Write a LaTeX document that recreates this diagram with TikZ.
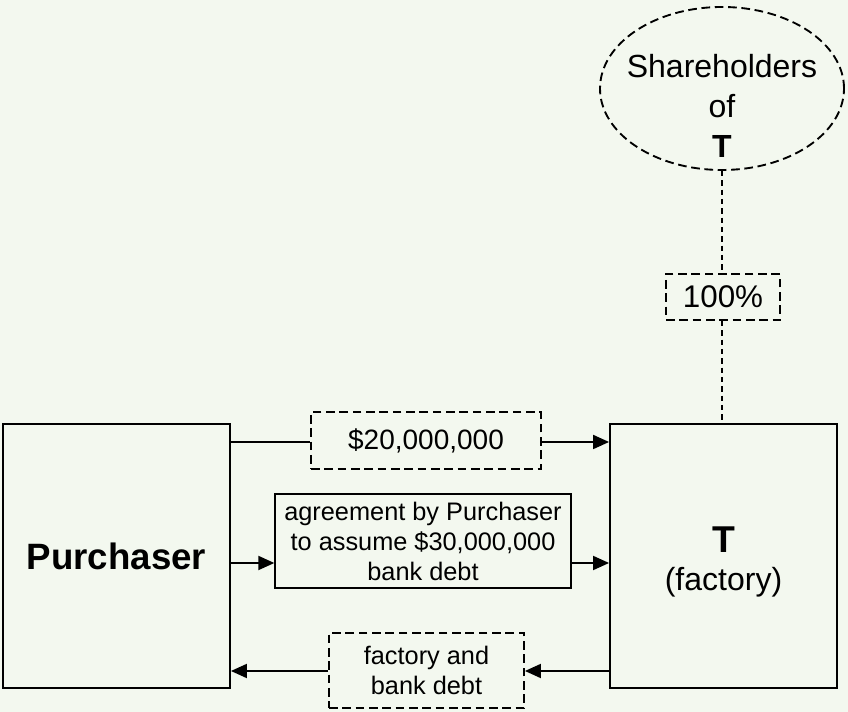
\documentclass[tikz,border=0pt]{standalone}
\usepackage{fontspec}
\setmainfont{Liberation Sans}
\usetikzlibrary{arrows.meta,positioning,shapes.geometric}
\definecolor{fondo}{HTML}{F3F8EF}
\newcommand{\fs}[2]{\fontsize{#1pt}{#2pt}\selectfont}

\begin{document}
\begin{tikzpicture}[
    x=0.75pt,y=0.75pt,line width=1.4pt,
    >={Triangle[length=12pt,width=10.5pt]},
    party/.style={draw,align=center,minimum width=227*0.75pt,
                  minimum height=264*0.75pt,inner sep=0pt},
    dashbox/.style={draw,dash pattern=on 6.5pt off 3.5pt,align=center,inner sep=0pt},
    plainbox/.style={draw,line width=1pt,align=center,inner sep=0pt},
    link/.style={dash pattern=on 4pt off 3pt,line width=1pt},
    arr/.style={->}]
  \fill[fondo] (0,0) rectangle (848,712);
  \useasboundingbox (0,0) rectangle (848,712);
  % --- partes: comprador y T
  \node[party,font=\fs{27.5}{33}\bfseries] (buyer) at (116.5,156) {Purchaser};
  \node[party] (tbox) at (723.5,156) {};
  \node[align=center,font=\fs{24}{28.5}] (tname) at (723.5,150)
    {{\fs{28}{28}\bfseries T}\\(factory)};
  % --- accionistas de T
  \node[ellipse,dashbox,minimum width=244*0.75pt,minimum height=163*0.75pt]
    (share) at (722,623.5) {};
  \node[align=center,font=\fs{24}{30}] (shname) at (722,606)
    {Shareholders\\of\\\textbf{T}};
  \node[dashbox,font=\fs{23.5}{28},minimum width=114*0.75pt,minimum height=46*0.75pt]
    (pct) at (723,415) {100\%};
  \draw[link] (share.south) -- (share.south |- pct.north);
  \draw[link] (share.south |- pct.south) -- (share.south |- tbox.north);
  % --- contraprestaciones
  \node[dashbox,font=\fs{21}{25},minimum width=230*0.75pt,minimum height=57*0.75pt]
    (cash) at (426,271.5) {\$20,000,000};
  \node[plainbox,font=\fs{19}{22.5},minimum width=296*0.75pt,minimum height=94*0.75pt]
    (agree) at (423,171)
    {agreement by Purchaser\\to assume \$30,000,000\\bank debt};
  \node[dashbox,font=\fs{19}{22.5},minimum width=195*0.75pt,minimum height=75*0.75pt]
    (fact) at (426.5,41.5) {factory and\\bank debt};
  \coordinate (row1) at (0,270);
  \coordinate (row2) at (0,149);
  \coordinate (row3) at (0,41);
  % flechas
  \draw (buyer.east |- row1) -- (cash.west |- row1);
  \draw[arr] (cash.east |- row1) -- (tbox.west |- row1);
  \draw[arr] (buyer.east |- row2) -- (agree.west |- row2);
  \draw[arr] (agree.east |- row2) -- (tbox.west |- row2);
  \draw[arr] (tbox.west |- row3) -- (fact.east |- row3);
  \draw[arr] (fact.west |- row3) -- (buyer.east |- row3);
\end{tikzpicture}
\end{document}
